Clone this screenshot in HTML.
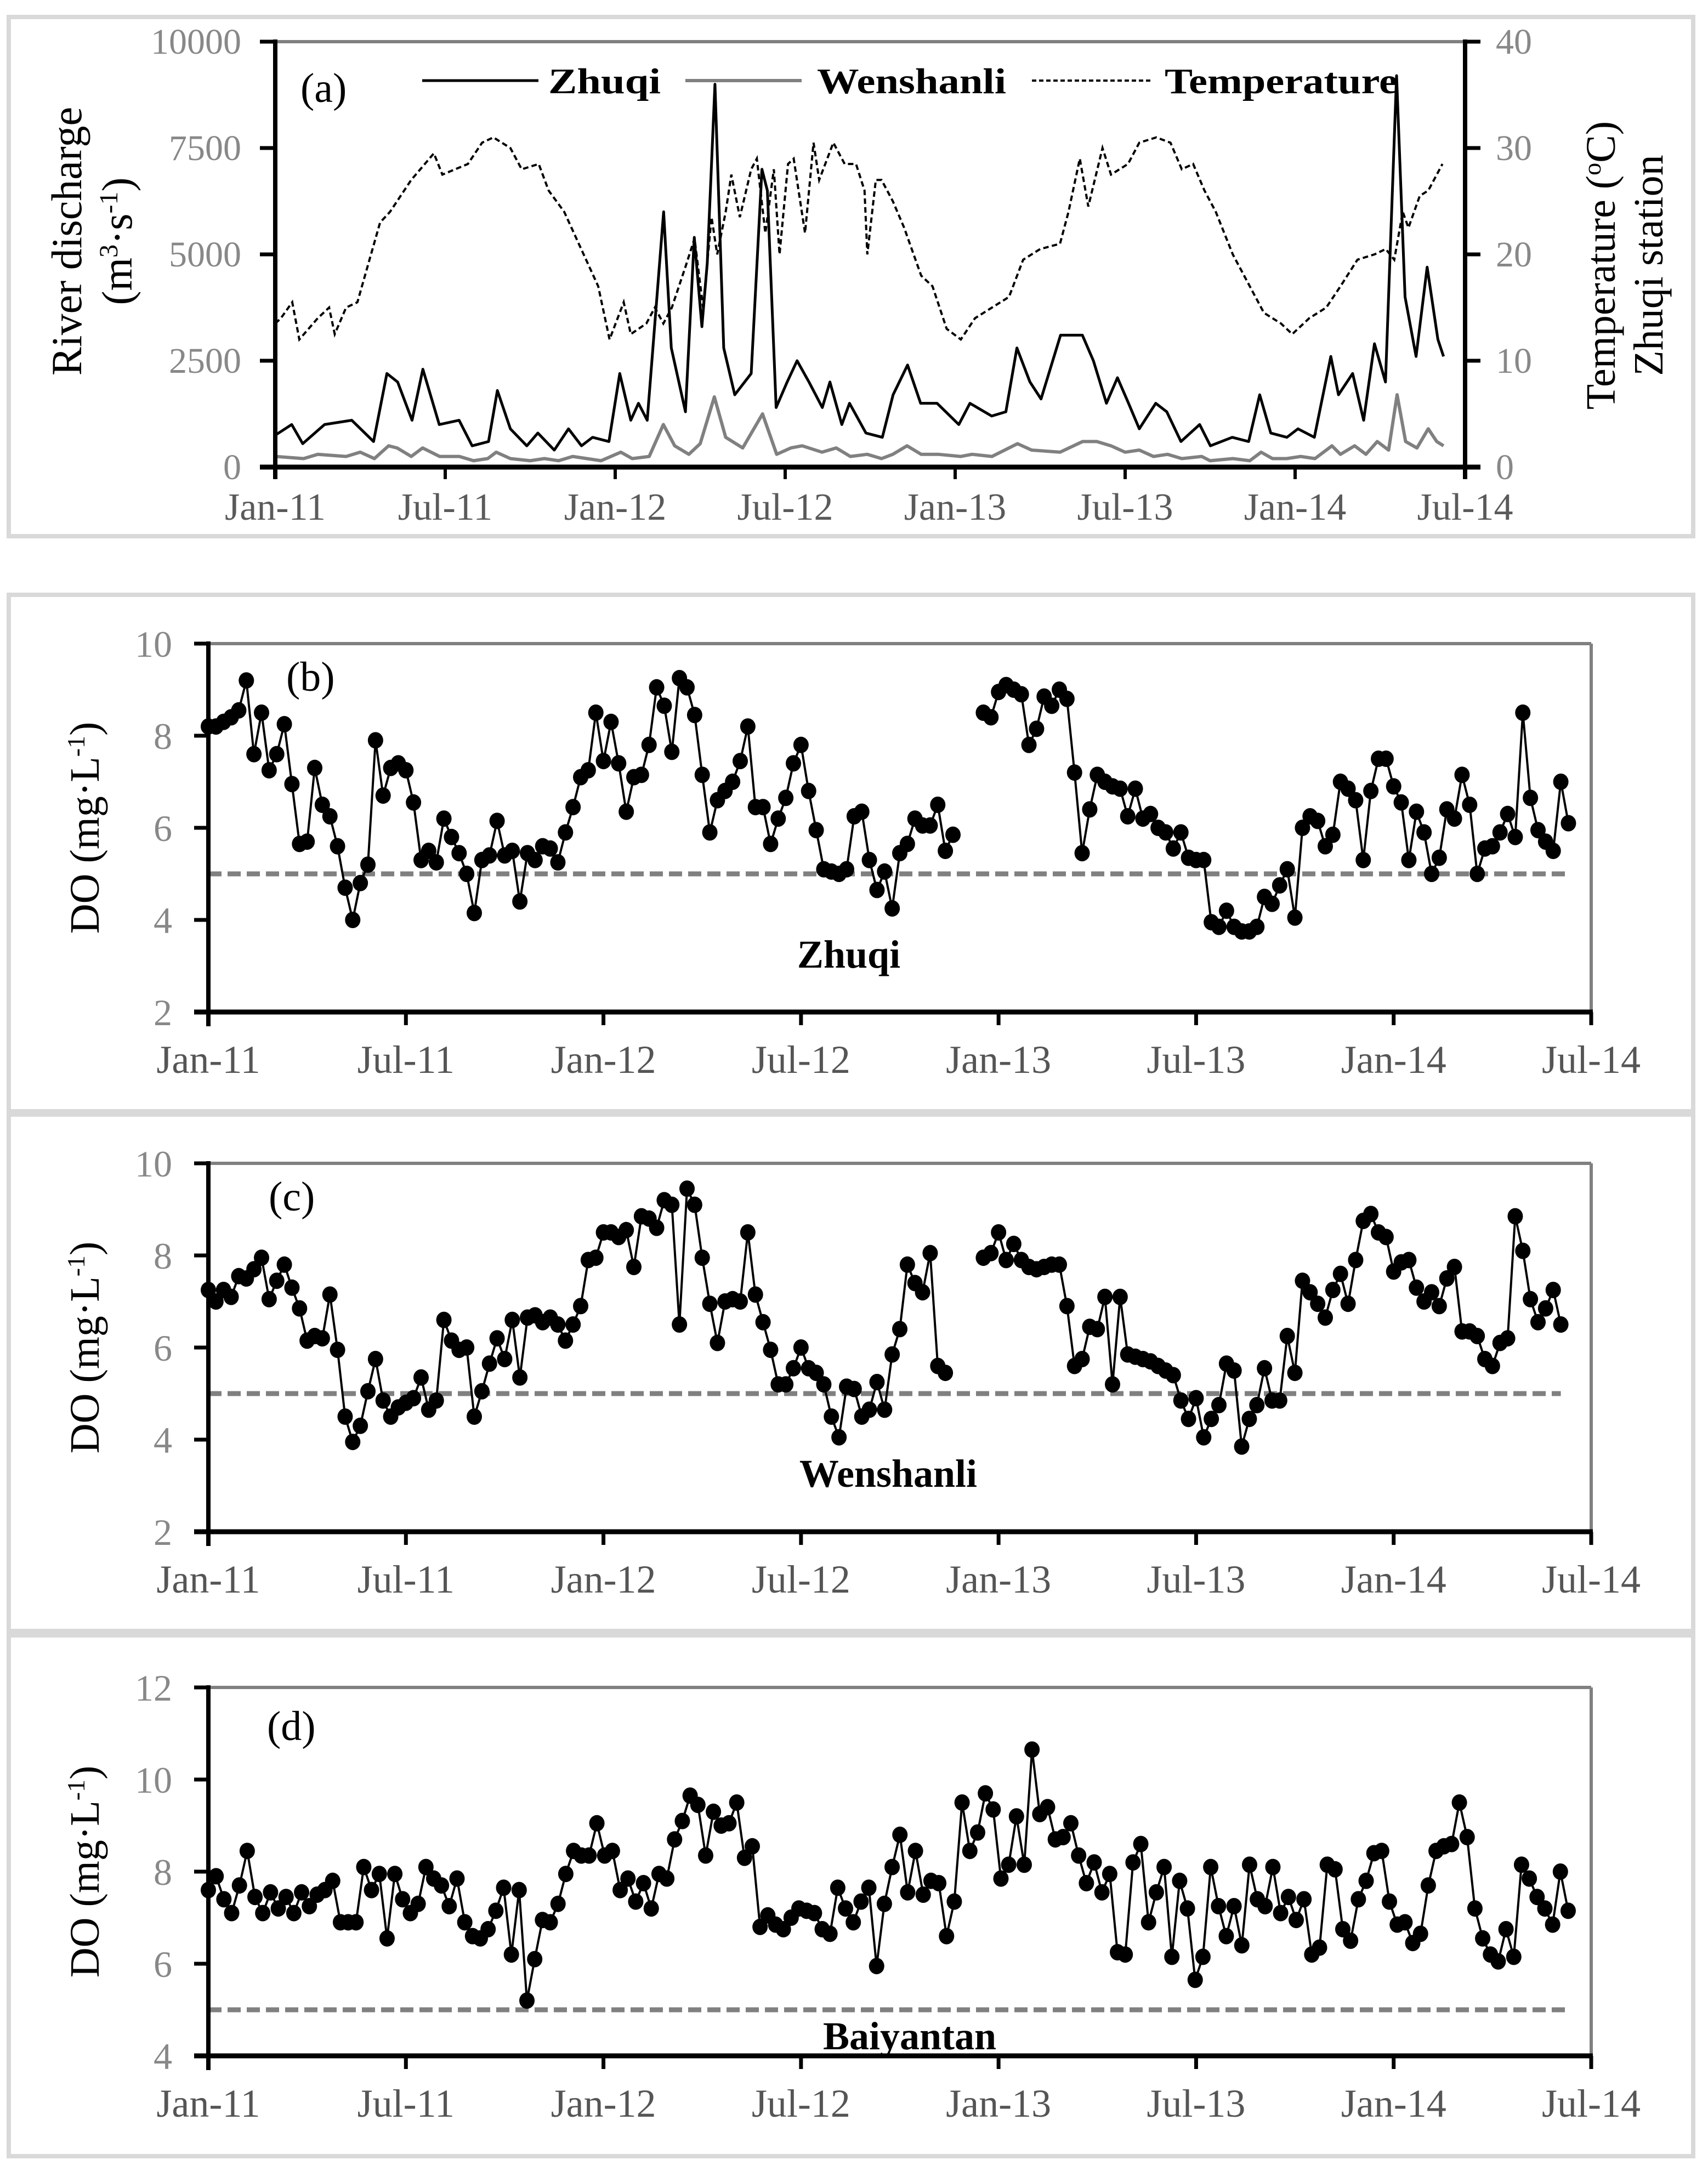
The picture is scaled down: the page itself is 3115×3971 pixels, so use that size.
<!DOCTYPE html>
<html><head><meta charset="utf-8"><style>
html,body{margin:0;padding:0;background:#fff;}
svg{display:block;font-family:"Liberation Serif",serif;}
</style></head><body>
<svg id="fig" xmlns="http://www.w3.org/2000/svg" width="3115" height="3971" viewBox="0 0 3115 3971">
<rect x="0" y="0" width="3115" height="3971" fill="#fff"/>
<rect x="16" y="31" width="3072" height="947" fill="none" stroke="#d9d9d9" stroke-width="8"/>
<rect x="16" y="1085" width="3072" height="942" fill="none" stroke="#d9d9d9" stroke-width="8"/>
<rect x="16" y="2033" width="3072" height="942" fill="none" stroke="#d9d9d9" stroke-width="8"/>
<rect x="16" y="2983" width="3072" height="950" fill="none" stroke="#d9d9d9" stroke-width="8"/>
<g id="layer"></g>
</svg>
<script>
// ---------- Panel (a) data ----------
const xTickLabels = ["Jan-11","Jul-11","Jan-12","Jul-12","Jan-13","Jul-13","Jan-14","Jul-14"];
const aLeftTicks = [0,2500,5000,7500,10000];
const aRightTicks = [0,10,20,30,40];
const zqMonths = [0,0.58,0.97,1.74,2.70,3.47,3.94,4.32,4.83,5.21,5.79,6.49,6.95,7.53,7.84,8.30,8.88,9.27,9.85,10.35,10.81,11.20,11.78,12.16,12.55,12.82,13.13,13.71,13.98,14.48,14.79,15.06,15.25,15.52,15.83,16.22,16.80,17.18,17.37,17.68,18.07,18.42,18.84,19.31,19.58,20.0,20.27,20.85,21.43,21.81,22.32,22.78,23.36,24.13,24.52,25.29,25.79,26.18,26.64,27.03,27.72,28.49,28.88,29.34,29.73,30.12,30.5,31.08,31.47,31.97,32.63,33.01,33.78,34.36,34.75,35.14,35.71,36.10,36.68,37.26,37.53,38.03,38.42,38.80,39.19,39.58,39.88,40.27,40.66,41.04,41.24];
const zqDischarge = [750,1000,550,1000,1100,600,2200,2000,1100,2300,1000,1100,500,600,1800,900,500,800,400,900,500,700,600,2200,1100,1500,1100,6000,2800,1300,5400,3300,4800,9000,2800,1700,2200,7000,6500,1400,2000,2500,2000,1400,2000,1000,1500,800,700,1700,2400,1500,1500,1000,1500,1200,1300,2800,2000,1600,3100,3100,2500,1500,2100,1500,900,1500,1300,600,1000,500,700,600,1700,800,700,900,700,2600,1700,2200,1100,2900,2000,9200,4000,2600,4700,3000,2600];
const wsMonths = [0,1,1.5,2.5,3,3.5,4,4.3,4.8,5.2,5.8,6.5,7,7.5,7.8,8.3,9,9.5,10,10.5,11,11.5,12.2,12.6,13.2,13.7,14.1,14.6,15.0,15.5,15.9,16.5,17.2,17.7,18.2,18.6,19.3,19.8,20.3,20.9,21.4,21.8,22.3,22.8,23.4,24.2,24.6,25.3,26.2,26.7,27.7,28.5,29,29.5,30,30.5,31,31.5,32,32.7,33,33.8,34.4,34.8,35.2,35.7,36.2,36.7,37.3,37.6,38.1,38.5,38.9,39.3,39.6,39.9,40.3,40.7,41.0,41.24];
const wsDischarge = [250,200,300,250,350,200,500,450,250,450,250,250,150,200,350,200,150,200,150,250,200,150,350,200,250,1000,500,300,550,1650,700,450,1250,300,450,500,350,450,250,300,200,300,500,300,300,250,300,250,550,400,350,600,600,500,350,400,250,300,200,250,150,200,150,350,200,200,250,200,500,300,500,300,600,400,1700,600,450,900,600,500];
const tempMonths = [0,0.2,0.6,0.85,1.5,1.9,2.1,2.5,2.9,3.7,4.05,4.8,5.6,5.9,6.8,7.3,7.7,8.3,8.7,9.3,9.65,10.2,10.8,11.4,11.8,12.3,12.55,13.1,13.4,13.7,14.0,14.5,14.8,15.1,15.4,15.6,15.9,16.1,16.4,16.8,17.0,17.3,17.6,17.8,18.1,18.3,18.7,19.0,19.2,19.7,20.1,20.5,20.8,20.9,21.2,21.4,21.8,22.2,22.8,23.2,23.7,24.2,24.7,25.3,25.9,26.4,27.0,27.7,28.0,28.4,28.7,29.2,29.5,30.1,30.5,31.1,31.6,32.0,32.4,32.8,33.2,33.8,34.4,34.9,35.5,35.9,36.5,37.1,37.6,38.2,38.8,39.2,39.5,39.8,40.0,40.4,40.7,41.2];
const tempValues = [13.5,14,15.5,12,14,15,12.5,15,15.5,23,24,27,29.5,27.5,28.5,30.5,31,30,28,28.5,26,24,20.5,17,12,15.5,12.5,13.5,15,13.5,15,19,21.5,15,23.5,20,24,27.5,23.5,28,29,22,28,20,28.5,29,22,30.5,27,30.5,28.5,28.5,26,20,27,27,25,22.5,18,17,13,12,14,15,16,19.5,20.5,21,24,29,24.5,30,27.5,28.5,30.5,31,30.5,28,28.5,26,24,20,17,14.5,13.5,12.5,14,15,17,19.5,20,20.5,19.5,24,22.5,25.5,26,28.5];

// ---------- DO panels (samples from Jan-11; null = no data) ----------
const doThreshold = 5;
const doTicksBC = [2,4,6,8,10];
const doTicksD = [4,6,8,10,12];
const zhuqiDO = [8.2,8.2,8.3,8.4,8.55,9.2,7.6,8.5,7.25,7.6,8.25,6.95,5.65,5.7,7.3,6.5,6.25,5.6,4.7,4.0,4.8,5.2,7.9,6.7,7.3,7.4,7.25,6.55,5.3,5.5,5.25,6.2,5.8,5.45,5.0,4.15,5.3,5.4,6.15,5.4,5.5,4.4,5.45,5.3,5.6,5.55,5.25,5.9,6.45,7.1,7.25,8.5,7.45,8.3,7.4,6.35,7.1,7.15,7.8,9.05,8.65,7.65,9.25,9.05,8.45,7.15,5.9,6.6,6.8,7.0,7.45,8.2,6.45,6.45,5.65,6.2,6.65,7.4,7.8,6.8,5.95,5.1,5.05,5.0,5.1,6.25,6.35,5.3,4.65,5.05,4.25,5.45,5.65,6.2,6.05,6.05,6.5,5.5,5.85,
 null,null,null,
 8.5,8.4,8.95,9.1,9.0,8.9,7.8,8.15,8.85,8.65,9.0,8.8,7.2,5.45,6.4,7.15,7.0,6.9,6.85,6.25,6.85,6.2,6.3,6.0,5.9,5.55,5.9,5.35,5.3,5.3,3.95,3.85,4.2,3.85,3.75,3.75,3.85,4.5,4.35,4.75,5.1,4.05,6.0,6.25,6.15,5.6,5.85,7.0,6.85,6.6,5.3,6.8,7.5,7.5,6.9,6.55,5.3,6.35,5.9,5.0,5.35,6.4,6.2,7.15,6.5,5.0,5.55,5.6,5.9,6.3,5.8,8.5,6.65,5.95,5.7,5.5,7.0,6.1];
const wenshanliDO = [7.25,7.0,7.25,7.1,7.55,7.5,7.7,7.95,7.05,7.45,7.8,7.3,6.85,6.15,6.25,6.2,7.15,5.95,4.5,3.95,4.3,5.05,5.75,4.85,4.5,4.7,4.8,4.9,5.35,4.65,4.85,6.6,6.15,5.95,6.0,4.5,5.05,5.65,6.2,5.75,6.6,5.35,6.65,6.7,6.55,6.65,6.5,6.15,6.5,6.9,7.9,7.95,8.5,8.5,8.4,8.55,7.75,8.85,8.8,8.6,9.2,9.1,6.5,9.45,9.1,7.95,6.95,6.1,7.0,7.05,7.0,8.5,7.15,6.55,5.95,5.2,5.2,5.55,6.0,5.55,5.45,5.2,4.5,4.05,5.15,5.1,4.5,4.65,5.25,4.65,5.85,6.4,7.8,7.4,7.2,8.05,5.6,5.45,
 null,null,null,null,
 7.95,8.05,8.5,7.9,8.25,7.9,7.75,7.7,7.75,7.8,7.8,6.9,5.6,5.75,6.45,6.4,7.1,5.2,7.1,5.85,5.8,5.75,5.7,5.6,5.5,5.4,4.85,4.45,4.9,4.05,4.45,4.75,5.65,5.5,3.85,4.45,4.75,5.55,4.85,4.85,6.25,5.45,7.45,7.2,6.95,6.65,7.25,7.6,6.95,7.9,8.75,8.9,8.5,8.4,7.65,7.85,7.9,7.3,7.0,7.2,6.9,7.5,7.75,6.35,6.35,6.25,5.75,5.6,6.1,6.2,8.85,8.1,7.05,6.55,6.85,7.25,6.5];
const baiyantanDO = [7.6,7.9,7.4,7.1,7.7,8.45,7.45,7.1,7.55,7.2,7.45,7.1,7.55,7.25,7.5,7.6,7.8,6.9,6.9,6.9,8.1,7.6,7.95,6.55,7.95,7.4,7.1,7.3,8.1,7.85,7.7,7.25,7.85,6.9,6.6,6.55,6.75,7.15,7.65,6.2,7.6,5.2,6.1,6.95,6.9,7.3,7.95,8.45,8.35,8.35,9.05,8.35,8.45,7.6,7.85,7.35,7.75,7.2,7.95,7.85,8.7,9.1,9.65,9.45,8.35,9.3,9.0,9.05,9.5,8.3,8.55,6.8,7.05,6.85,6.75,7.0,7.2,7.15,7.1,6.75,6.65,7.65,7.2,6.9,7.35,7.65,5.95,7.3,8.1,8.8,7.55,8.45,7.5,7.8,7.75,6.6,7.35,9.5,8.45,8.85,9.7,9.35,7.85,8.15,9.2,8.15,10.65,9.25,9.4,8.7,8.75,9.05,8.35,7.75,8.2,7.55,7.95,6.25,6.2,8.2,8.6,6.9,7.55,8.1,6.15,7.8,7.2,5.65,6.15,8.1,7.25,6.6,7.25,6.4,8.15,7.4,7.25,8.1,7.1,7.45,6.95,7.4,6.2,6.35,8.15,8.05,6.75,6.5,7.4,7.8,8.4,8.45,7.35,6.85,6.9,6.45,6.65,7.7,8.45,8.55,8.6,9.5,8.75,7.2,6.55,6.2,6.05,6.75,6.15,8.15,7.85,7.45,7.2,6.85,8.0,7.15];
const baiyantanLastMonth = 41.3;

const NS = "http://www.w3.org/2000/svg";
const layer = document.getElementById("layer");
function mk(tag, attrs, parent){
  const e = document.createElementNS(NS, tag);
  for (const k in attrs) e.setAttribute(k, attrs[k]);
  (parent||layer).appendChild(e);
  return e;
}
const WEEK = 12/52;

// ================= Panel (a) =================
const A = {l:502, r:2672, t:76, b:852};
const xa = m => A.l + m*(A.r-A.l)/42;
const yaQ = v => A.b - v*(A.b-A.t)/10000;
const yaT = v => A.b - v*(A.b-A.t)/40;

let g = mk("g", {});



let e = mk("line", {x1:A.l, y1:A.t, x2:A.r, y2:A.t, stroke:"#808080", "stroke-width":6}, g);



function poly(ms, vs, yf, attrs, parent){
  const n = Math.min(ms.length, vs.length);
  const pts = [];
  for (let i=0;i<n;i++) pts.push(xa(ms[i]).toFixed(1)+","+yf(vs[i]).toFixed(1));
  attrs.points = pts.join(" ");
  attrs.fill = "none";
  return mk("polyline", attrs, parent);
}
e = poly(tempMonths, tempValues, yaT, {stroke:"#000","stroke-width":4,"stroke-dasharray":"10 6"}, g);


e = poly(wsMonths, wsDischarge, yaQ, {stroke:"#808080","stroke-width":6,"stroke-linejoin":"round"}, g);


e = poly(zqMonths, zqDischarge, yaQ, {stroke:"#000","stroke-width":5,"stroke-linejoin":"round"}, g);



e = mk("line", {x1:A.l, y1:A.t-4, x2:A.l, y2:A.b+22, stroke:"#000","stroke-width":8}, g);


e = mk("line", {x1:A.r, y1:A.t-4, x2:A.r, y2:A.b+22, stroke:"#000","stroke-width":8}, g);


e = mk("line", {x1:A.l-28, y1:A.b, x2:A.r+28, y2:A.b, stroke:"#000","stroke-width":9}, g);



aLeftTicks.forEach(v=>{
  const t = mk("line", {x1:A.l-28, y1:yaQ(v), x2:A.l, y2:yaQ(v), stroke:"#000","stroke-width":7}, g);
  
  
  const tx = mk("text", {x:A.l-62, y:yaQ(v)+22, "font-size":66, fill:"#888", "text-anchor":"end"}, g);
  tx.textContent = String(v);
  
  
});
aRightTicks.forEach(v=>{
  const t = mk("line", {x1:A.r, y1:yaT(v), x2:A.r+28, y2:yaT(v), stroke:"#000","stroke-width":7}, g);
  
  
  const tx = mk("text", {x:A.r+56, y:yaT(v)+22, "font-size":66, fill:"#888"}, g);
  tx.textContent = String(v);
  
  
});
xTickLabels.forEach((lab,i)=>{
  const x = xa(i*6);
  const t = mk("line", {x1:x, y1:A.b, x2:x, y2:A.b+22, stroke:"#000","stroke-width":6}, g);
  
  
  const tx = mk("text", {x:x, y:A.b+96, "font-size":70, fill:"#5a5a5a", "text-anchor":"middle"}, g);
  tx.textContent = lab;
  
  
});

e = mk("text", {x:0, y:0, "font-size":78, fill:"#000", "text-anchor":"middle", transform:"translate(148,440) rotate(-90)"}, g);
e.textContent = "River discharge";


e = mk("text", {x:0, y:0, "font-size":78, fill:"#000", "text-anchor":"middle", transform:"translate(240,440) rotate(-90)"}, g);
e.innerHTML = '(m<tspan font-size="48" dy="-26">3</tspan><tspan dy="26">·s</tspan><tspan font-size="48" dy="-26">-1</tspan><tspan dy="26">)</tspan>';


e = mk("text", {x:0, y:0, "font-size":76, fill:"#000", "text-anchor":"middle", transform:"translate(2945,484) rotate(-90)"}, g);
e.innerHTML = 'Temperature (<tspan font-size="46" dy="-26">o</tspan><tspan dy="26">C)</tspan>';


e = mk("text", {x:0, y:0, "font-size":76, fill:"#000", "text-anchor":"middle", transform:"translate(3032,484) rotate(-90)"}, g);
e.textContent = "Zhuqi station";



e = mk("text", {x:548, y:186, "font-size":76, fill:"#000"}, g);
e.textContent = "(a)";


e = mk("line", {x1:770, y1:147, x2:982, y2:147, stroke:"#000","stroke-width":5}, g);


e = mk("text", {x:1000, y:170, "font-size":66, "font-weight":"bold", fill:"#000", textLength:205, lengthAdjust:"spacingAndGlyphs"}, g);
e.textContent = "Zhuqi";


e = mk("line", {x1:1250, y1:147, x2:1462, y2:147, stroke:"#808080","stroke-width":6}, g);


e = mk("text", {x:1490, y:170, "font-size":66, "font-weight":"bold", fill:"#000", textLength:345, lengthAdjust:"spacingAndGlyphs"}, g);
e.textContent = "Wenshanli";


e = mk("line", {x1:1882, y1:147, x2:2100, y2:147, stroke:"#000","stroke-width":4,"stroke-dasharray":"8 5"}, g);


e = mk("text", {x:2124, y:170, "font-size":66, "font-weight":"bold", fill:"#000", textLength:425, lengthAdjust:"spacingAndGlyphs"}, g);
e.textContent = "Temperature";



// ================= DO panels =================
function doPanel(cfg){
  const P = {l:380, r:2902, t:cfg.top, b:cfg.top+672};
  const xb = m => P.l + m*(P.r-P.l)/42;
  const yb = v => P.b - (v-cfg.min)*(P.b-P.t)/(cfg.max-cfg.min);
  const step = cfg.step || WEEK;
  const pg = mk("g", {});
  
  

  let l = mk("line", {x1:P.l, y1:P.t, x2:P.r, y2:P.t, stroke:"#808080","stroke-width":6}, pg);
  
  
  l = mk("line", {x1:P.r, y1:P.t, x2:P.r, y2:P.b, stroke:"#808080","stroke-width":6}, pg);
  
  

  const vals = cfg.values;
  let lastIdx = 0;
  vals.forEach((v,i)=>{ if (v!==null) lastIdx = i; });
  l = mk("line", {x1:P.l, y1:yb(doThreshold), x2:xb(lastIdx*step), y2:yb(doThreshold), stroke:"#808080","stroke-width":9,"stroke-dasharray":"24 11"}, pg);
  
  

  let seg = [];
  const segs = [];
  vals.forEach((v,i)=>{
    if (v===null){ if (seg.length) segs.push(seg); seg=[]; }
    else seg.push(xb(i*step).toFixed(1)+","+yb(v).toFixed(1));
  });
  if (seg.length) segs.push(seg);
  segs.forEach(s=>{
    const pl = mk("polyline", {points:s.join(" "), fill:"none", stroke:"#000","stroke-width":4}, pg);
    
    
  });
  vals.forEach((v,i)=>{
    if (v===null) return;
    const c = mk("ellipse", {cx:xb(i*step), cy:yb(v), rx:14, ry:15, fill:"#000"}, pg);
    
    
  });

  l = mk("line", {x1:P.l, y1:P.t-4, x2:P.l, y2:P.b+26, stroke:"#000","stroke-width":8}, pg);
  
  
  l = mk("line", {x1:P.l-26, y1:P.b, x2:P.r+3, y2:P.b, stroke:"#000","stroke-width":9}, pg);
  
  
  cfg.ticks.forEach(v=>{
    const t = mk("line", {x1:P.l-26, y1:yb(v), x2:P.l, y2:yb(v), stroke:"#000","stroke-width":7}, pg);
    
    
    const tx = mk("text", {x:P.l-66, y:yb(v)+24, "font-size":68, fill:"#888", "text-anchor":"end"}, pg);
    tx.textContent = String(v);
    
    
  });
  xTickLabels.forEach((lab,i)=>{
    const x = xb(i*6);
    const t = mk("line", {x1:x, y1:P.b, x2:x, y2:P.b+24, stroke:"#000","stroke-width":7}, pg);
    
    
    const tx = mk("text", {x:x, y:P.b+111, "font-size":72, fill:"#555", "text-anchor":"middle"}, pg);
    tx.textContent = lab;
    
    
  });
  const tt = mk("text", {x:0, y:0, "font-size":76, fill:"#000", "text-anchor":"middle", transform:"translate(180,"+((P.t+P.b)/2)+") rotate(-90)"}, pg);
  tt.innerHTML = 'DO (mg·L<tspan font-size="46" dy="-26">-1</tspan><tspan dy="26">)</tspan>';
  
  
  const pl2 = mk("text", {x:cfg.labX, y:P.t+cfg.labDy, "font-size":76, fill:"#000"}, pg);
  pl2.textContent = cfg.label;
  
  
  const st = mk("text", {x:cfg.stX, y:P.t+cfg.stDy, "font-size":72, "font-weight":"bold", fill:"#000", "text-anchor":"middle"}, pg);
  st.textContent = cfg.station;
  
  
}
doPanel({name:"panel-b", top:1174, min:2, max:10, ticks:doTicksBC, values:zhuqiDO, label:"(b)", labX:522, labDy:86, station:"Zhuqi", stX:1548, stDy:591});
doPanel({name:"panel-c", top:2122, min:2, max:10, ticks:doTicksBC, values:wenshanliDO, label:"(c)", labX:490, labDy:86, station:"Wenshanli", stX:1620, stDy:590});
doPanel({name:"panel-d", top:3078, min:4, max:12, ticks:doTicksD, values:baiyantanDO, step: baiyantanLastMonth/(baiyantanDO.length-1), label:"(d)", labX:487, labDy:96, station:"Baiyantan", stX:1659, stDy:660});
</script>
</body></html>
